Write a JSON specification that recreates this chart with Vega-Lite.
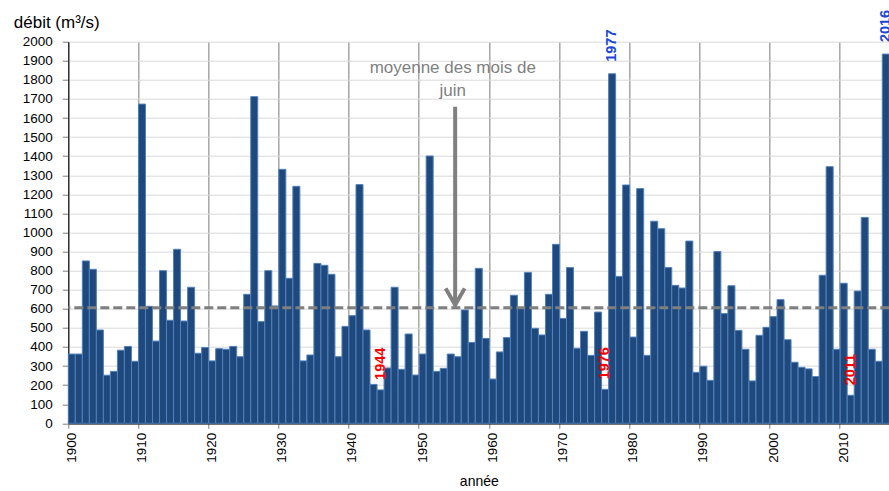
{
  "$schema": "https://vega.github.io/schema/vega-lite/v6.json",
  "width": 821,
  "height": 381.6,
  "autosize": {"type": "none"},
  "padding": {"left": 68.3, "top": 41.7, "right": 0, "bottom": 67.7},
  "background": "white",
  "config": {
    "view": {"stroke": null},
    "font": "Liberation Sans",
    "axisX": {
      "bandPosition": 0,
      "labelAngle": -90, "labelAlign": "right", "labelBaseline": "middle",
      "labelFontSize": 13.5, "labelColor": "#000000", "labelPadding": 4,
      "tickSize": 5, "tickColor": "#808080",
      "domainColor": "#000000", "domainWidth": 1.5,
      "grid": true, "gridColor": "#a6a6a6", "gridWidth": 1.5,
      "titleFontSize": 14, "titleFontWeight": "normal",
      "titleColor": "#000000", "titlePadding": 12,
      "titleFont": "Liberation Sans Narrow, Liberation Sans"
    },
    "axisY": {
      "tickCount": 20, "format": "d", "labelOverlap": false,
      "grid": true, "gridColor": "#d9d9d9", "gridWidth": 1,
      "tickSize": 6, "tickColor": "#808080",
      "domainColor": "#000000", "domainWidth": 1,
      "labelFontSize": 13.5, "labelColor": "#000000", "labelPadding": 10,
      "titleAngle": 0, "titleAlign": "left",
      "titleBaseline": "alphabetic", "titleX": -55, "titleY": -14,
      "titleFontSize": 17, "titleFontWeight": "normal", "titleColor": "#000000",
      "titleFont": "Liberation Sans Narrow, Liberation Sans"
    }
  },
  "datasets": {
    "juin": [
    {"annee":1900,"debit":363},{"annee":1901,"debit":363},{"annee":1902,"debit":851},{"annee":1903,"debit":807},{"annee":1904,"debit":489},
    {"annee":1905,"debit":252},{"annee":1906,"debit":272},{"annee":1907,"debit":383},{"annee":1908,"debit":403},{"annee":1909,"debit":325},
    {"annee":1910,"debit":1673},{"annee":1911,"debit":613},{"annee":1912,"debit":431},{"annee":1913,"debit":800},{"annee":1914,"debit":540},
    {"annee":1915,"debit":912},{"annee":1916,"debit":536},{"annee":1917,"debit":713},{"annee":1918,"debit":367},{"annee":1919,"debit":397},
    {"annee":1920,"debit":327},{"annee":1921,"debit":391},{"annee":1922,"debit":388},{"annee":1923,"debit":403},{"annee":1924,"debit":349},
    {"annee":1925,"debit":676},{"annee":1926,"debit":1712},{"annee":1927,"debit":533},{"annee":1928,"debit":800},{"annee":1929,"debit":615},
    {"annee":1930,"debit":1331},{"annee":1931,"debit":760},{"annee":1932,"debit":1242},{"annee":1933,"debit":327},{"annee":1934,"debit":358},
    {"annee":1935,"debit":838},{"annee":1936,"debit":828},{"annee":1937,"debit":781},{"annee":1938,"debit":349},{"annee":1939,"debit":508},
    {"annee":1940,"debit":564},{"annee":1941,"debit":1251},{"annee":1942,"debit":489},{"annee":1943,"debit":204},{"annee":1944,"debit":175},
    {"annee":1945,"debit":290},{"annee":1946,"debit":713},{"annee":1947,"debit":283},{"annee":1948,"debit":468},{"annee":1949,"debit":253},
    {"annee":1950,"debit":363},{"annee":1951,"debit":1401},{"annee":1952,"debit":272},{"annee":1953,"debit":288},{"annee":1954,"debit":363},
    {"annee":1955,"debit":349},{"annee":1956,"debit":594},{"annee":1957,"debit":424},{"annee":1958,"debit":812},{"annee":1959,"debit":445},
    {"annee":1960,"debit":232},{"annee":1961,"debit":374},{"annee":1962,"debit":449},{"annee":1963,"debit":671},{"annee":1964,"debit":606},
    {"annee":1965,"debit":791},{"annee":1966,"debit":498},{"annee":1967,"debit":463},{"annee":1968,"debit":676},{"annee":1969,"debit":938},
    {"annee":1970,"debit":550},{"annee":1971,"debit":816},{"annee":1972,"debit":393},{"annee":1973,"debit":482},{"annee":1974,"debit":356},
    {"annee":1975,"debit":583},{"annee":1976,"debit":178},{"annee":1977,"debit":1832},{"annee":1978,"debit":770},{"annee":1979,"debit":1249},
    {"annee":1980,"debit":452},{"annee":1981,"debit":1230},{"annee":1982,"debit":356},{"annee":1983,"debit":1059},{"annee":1984,"debit":1020},
    {"annee":1985,"debit":816},{"annee":1986,"debit":723},{"annee":1987,"debit":709},{"annee":1988,"debit":955},{"annee":1989,"debit":267},
    {"annee":1990,"debit":299},{"annee":1991,"debit":225},{"annee":1992,"debit":900},{"annee":1993,"debit":575},{"annee":1994,"debit":721},
    {"annee":1995,"debit":487},{"annee":1996,"debit":388},{"annee":1997,"debit":222},{"annee":1998,"debit":461},{"annee":1999,"debit":503},
    {"annee":2000,"debit":559},{"annee":2001,"debit":648},{"annee":2002,"debit":438},{"annee":2003,"debit":320},{"annee":2004,"debit":293},
    {"annee":2005,"debit":285},{"annee":2006,"debit":245},{"annee":2007,"debit":776},{"annee":2008,"debit":1345},{"annee":2009,"debit":388},
    {"annee":2010,"debit":734},{"annee":2011,"debit":147},{"annee":2012,"debit":693},{"annee":2013,"debit":1079},{"annee":2014,"debit":388},
    {"annee":2015,"debit":325},{"annee":2016,"debit":1935}
    ],
    "one": [{"moyenne": 606}]
  },
  "layer": [
    {
      "data": {"name": "juin"},
      "mark": {"type": "bar", "fill": "#1F497D", "stroke": "#4F81BD", "strokeWidth": 1},
      "encoding": {
        "x": {
          "field": "annee", "type": "ordinal",
          "scale": {"paddingInner": 0, "paddingOuter": 0},
          "axis": {
            "title": "année",
            "values": [1900,1910,1920,1930,1940,1950,1960,1970,1980,1990,2000,2010],
            "bandPosition": 0
          }
        },
        "y": {
          "field": "debit", "type": "quantitative",
          "scale": {"domain": [0, 2000], "nice": false},
          "axis": {"title": "débit (m³/s)"}
        }
      }
    },
    {
      "data": {"name": "one"},
      "mark": {"type": "rule", "color": "#7f7f7f", "strokeWidth": 3, "strokeDash": [9, 4]},
      "encoding": {"y": {"field": "moyenne", "type": "quantitative"}}
    },
    {
      "data": {"name": "one"},
      "mark": {"type": "rule", "color": "#808080", "strokeWidth": 4},
      "encoding": {
        "x": {"datum": 1955, "type": "ordinal", "bandPosition": 0.13},
        "y": {"datum": 1659, "type": "quantitative"},
        "y2": {"datum": 618}
      }
    },
    {
      "data": {"name": "one"},
      "mark": {"type": "point", "shape": "M-1,-1.75L0,0L1,-1.75", "filled": false, "stroke": "#808080", "strokeWidth": 4, "strokeJoin": "round", "size": 361, "opacity": 1},
      "encoding": {
        "x": {"datum": 1955, "type": "ordinal", "bandPosition": 0.13},
        "y": {"datum": 620, "type": "quantitative"}
      }
    },
    {
      "data": {"name": "one"},
      "mark": {"type": "text", "text": ["moyenne des mois de", "juin"], "fontSize": 17, "color": "#7f7f7f", "align": "center", "baseline": "middle", "lineHeight": 23, "dx": -5},
      "encoding": {
        "x": {"datum": 1955, "type": "ordinal"},
        "y": {"datum": 1862, "type": "quantitative"}
      }
    },
    {
      "data": {"name": "juin"},
      "transform": [{"filter": {"field": "annee", "oneOf": [1944, 1976, 2011]}}],
      "mark": {"type": "text", "angle": 270, "align": "left", "baseline": "middle", "dx": 10, "fontSize": 14.5, "fontWeight": "bold", "color": "#FF0000"},
      "encoding": {
        "x": {"field": "annee", "type": "ordinal"},
        "y": {"field": "debit", "type": "quantitative"},
        "text": {"field": "annee", "type": "nominal"}
      }
    },
    {
      "data": {"name": "juin"},
      "transform": [{"filter": {"field": "annee", "oneOf": [1977, 2016]}}],
      "mark": {"type": "text", "angle": 270, "align": "left", "baseline": "middle", "dx": 12, "fontSize": 14.5, "fontWeight": "bold", "color": "#1A47D6"},
      "encoding": {
        "x": {"field": "annee", "type": "ordinal"},
        "y": {"field": "debit", "type": "quantitative"},
        "text": {"field": "annee", "type": "nominal"}
      }
    }
  ]
}
